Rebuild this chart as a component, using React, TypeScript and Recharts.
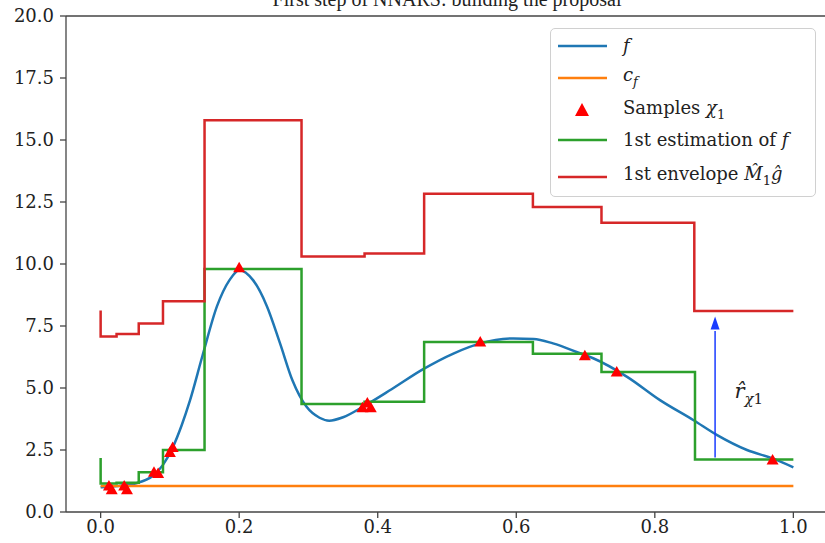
import React from 'react';
import {
  ComposedChart,
  Line,
  Scatter,
  XAxis,
  YAxis,
  Legend,
  ReferenceLine,
  ReferenceDot,
} from 'recharts';

// target density f
const fX = [0, 0.025, 0.05, 0.075, 0.09, 0.104, 0.117, 0.129, 0.147, 0.168, 0.186, 0.2, 0.22, 0.24, 0.259, 0.277, 0.297, 0.316, 0.33, 0.35, 0.379, 0.42, 0.465, 0.51, 0.548, 0.596, 0.625, 0.653, 0.692, 0.711, 0.76, 0.808, 0.856, 0.89, 0.933, 0.971, 1.0];
const fY = [1.0, 1.05, 1.15, 1.45, 1.9, 2.6, 3.5, 4.5, 6.3, 8.3, 9.35, 9.75, 9.35, 8.3, 6.8, 5.3, 4.25, 3.8, 3.68, 3.82, 4.25, 4.95, 5.75, 6.4, 6.8, 7.0, 6.98, 6.8, 6.4, 6.2, 5.45, 4.5, 3.7, 3.1, 2.5, 2.15, 1.8];

// constant c_f
const cfX = [0, 1];
const cfY = [1.05, 1.05];

// samples chi_1
const sampleX = [0.012, 0.016, 0.034, 0.038, 0.077, 0.083, 0.1, 0.104, 0.2, 0.378, 0.385, 0.39, 0.548, 0.699, 0.745, 0.97];
const sampleY = [1.05, 0.9, 1.05, 0.9, 1.6, 1.55, 2.4, 2.6, 9.85, 4.2, 4.4, 4.2, 6.85, 6.3, 5.65, 2.1];

// first estimation of f (step, post)
const estX = [0, 0, 0.023, 0.055, 0.09, 0.15, 0.29, 0.381, 0.467, 0.624, 0.723, 0.858, 1.0];
const estY = [2.18, 1.15, 1.18, 1.6, 2.5, 9.8, 4.35, 4.45, 6.85, 6.38, 5.65, 2.12, 2.12];

// first envelope (step, post)
const envX = [0, 0, 0.023, 0.055, 0.09, 0.15, 0.29, 0.381, 0.467, 0.624, 0.723, 0.857, 1.0];
const envY = [8.12, 7.08, 7.18, 7.6, 8.5, 15.8, 10.3, 10.42, 12.83, 12.3, 11.66, 8.1, 8.1];

// arrow r_hat
const arrowX = [0.887, 0.887];
const arrowY = [2.2, 7.3];
const arrowTip = 7.88;

const xTicks = [0, 0.2, 0.4, 0.6, 0.8, 1.0];
const yTicks = [0, 2.5, 5, 7.5, 10, 12.5, 15, 17.5, 20];

const zip = (xs: number[], ys: number[]) => xs.map((x, i) => ({ x, y: ys[i] }));

const fData = zip(fX, fY);
const cfData = zip(cfX, cfY);
const sampleData = zip(sampleX, sampleY);
const estData = zip(estX, estY);
const envData = zip(envX, envY);
const arrowData = zip(arrowX, arrowY);

const FONT = '"DejaVu Serif", "Liberation Serif", serif';
const TITLE_FONT = '"Liberation Serif", serif';
const AXIS = '#444';

const Tri = (props: any) => {
  const { cx, cy } = props;
  if (cx == null || cy == null) return null;
  return (
    <polygon
      points={`${cx},${cy - 6} ${cx - 6},${cy + 4.5} ${cx + 6},${cy + 4.5}`}
      fill="#ff0000"
    />
  );
};

const ArrowHead = (props: any) => {
  const { cx, cy } = props;
  return <polygon points={`${cx},${cy} ${cx - 4.5},${cy + 13} ${cx + 4.5},${cy + 13}`} fill="#1a3cff" />;
};

const RLabel = (props: any) => {
  const { cx, cy } = props;
  return (
    <text x={cx} y={cy} fontFamily={FONT} fill="#222" fontSize={21} fontStyle="italic">
      {'r\u0302'}
      <tspan dy={6} fontSize={15}>χ</tspan>
      <tspan fontSize={15} fontStyle="normal">1</tspan>
    </text>
  );
};

const sub = { fontSize: 13 };

const legendRows = [
  { color: '#1f77b4', kind: 'line', label: <i>f</i>, top: 17 },
  { color: '#ff7f0e', kind: 'line', label: <span><i>c</i><sub style={sub}><i>f</i></sub></span>, top: 49 },
  { color: '#ff0000', kind: 'tri', label: <span>Samples <i>χ</i><sub style={sub}>1</sub></span>, top: 82 },
  { color: '#2ca02c', kind: 'line', label: <span>1st estimation of <i>f</i></span>, top: 111 },
  { color: '#d62728', kind: 'line', label: <span>1st envelope <i>{'M\u0302'}</i><sub style={sub}>1</sub><i>{'\u011d'}</i></span>, top: 148 },
];

const renderLegend = () => (
  <div
    style={{
      position: 'relative',
      width: 266,
      height: 169,
      border: '1.5px solid #d0d0d0',
      borderRadius: 5,
      background: 'rgba(255,255,255,0.85)',
      boxSizing: 'border-box',
      fontFamily: FONT,
      fontSize: 18,
      color: '#222',
    }}
  >
    {legendRows.map((r, i) => (
      <div key={i} style={{ position: 'absolute', left: 0, top: r.top - 14, height: 28, display: 'flex', alignItems: 'center' }}>
        <svg width={72} height={28} style={{ display: 'block' }}>
          {r.kind === 'line' ? (
            <line x1={7} x2={56} y1={14} y2={14} stroke={r.color} strokeWidth={2.5} />
          ) : (
            <polygon points="31,6 24,19 38,19" fill={r.color} />
          )}
        </svg>
        <span style={{ whiteSpace: 'nowrap', lineHeight: '28px' }}>{r.label}</span>
      </div>
    ))}
  </div>
);

export default function App() {
  return (
    <div style={{ position: 'absolute', left: 0, top: 0, width: 825, height: 543, overflow: 'hidden', background: '#fff' }}>
      <svg width={825} height={20} style={{ position: 'absolute', left: 0, top: 0 }}>
        <text x={447} y={6} textAnchor="middle" fontFamily={TITLE_FONT} fontSize={20} fill="#222">
          First step of NNARS: building the proposal
        </text>
      </svg>
      <ComposedChart
        width={830}
        height={543}
        margin={{ top: 16, right: 2, left: 0, bottom: 0 }}
        style={{ position: 'absolute', left: 0, top: 0 }}
      >
        <XAxis
          dataKey="x"
          type="number"
          domain={[-0.05, 1.05]}
          ticks={xTicks}
          tickFormatter={(v: number) => v.toFixed(1)}
          height={31}
          allowDataOverflow
          stroke={AXIS}
          strokeWidth={1.3}
          tickSize={6}
          tickMargin={2}
          tick={{ fill: '#222', fontSize: 18, fontFamily: FONT }}
        />
        <YAxis
          dataKey="y"
          type="number"
          domain={[0, 20]}
          ticks={yTicks}
          tickFormatter={(v: number) => v.toFixed(1)}
          width={66}
          allowDataOverflow
          stroke={AXIS}
          strokeWidth={1.3}
          tickSize={6}
          tickMargin={6}
          tick={{ fill: '#222', fontSize: 18, fontFamily: FONT }}
        />
        <ReferenceLine y={20} stroke={AXIS} strokeWidth={1.3} />
        <ReferenceLine x={1.05} stroke={AXIS} strokeWidth={1.3} />
        <Line data={fData} dataKey="y" type="monotone" stroke="#1f77b4" strokeWidth={2.5} dot={false} isAnimationActive={false} legendType="none" />
        <Line data={cfData} dataKey="y" type="linear" stroke="#ff7f0e" strokeWidth={2.5} dot={false} isAnimationActive={false} legendType="none" />
        <Scatter data={sampleData} dataKey="y" shape={Tri} isAnimationActive={false} legendType="none" />
        <Line data={estData} dataKey="y" type="stepAfter" stroke="#2ca02c" strokeWidth={2.5} dot={false} isAnimationActive={false} legendType="none" />
        <Line data={envData} dataKey="y" type="stepAfter" stroke="#d62728" strokeWidth={2.5} dot={false} isAnimationActive={false} legendType="none" />
        <Line data={arrowData} dataKey="y" type="linear" stroke="#1a3cff" strokeWidth={1.5} dot={false} isAnimationActive={false} legendType="none" />
        <ReferenceDot x={arrowX[0]} y={arrowTip} shape={ArrowHead} />
        <ReferenceDot x={0.915} y={4.6} shape={RLabel} />
        <Legend
          layout="vertical"
          align="center"
          verticalAlign="middle"
          content={renderLegend}
          wrapperStyle={{ left: 550, top: 28, width: 266, height: 169 }}
        />
      </ComposedChart>
    </div>
  );
}
